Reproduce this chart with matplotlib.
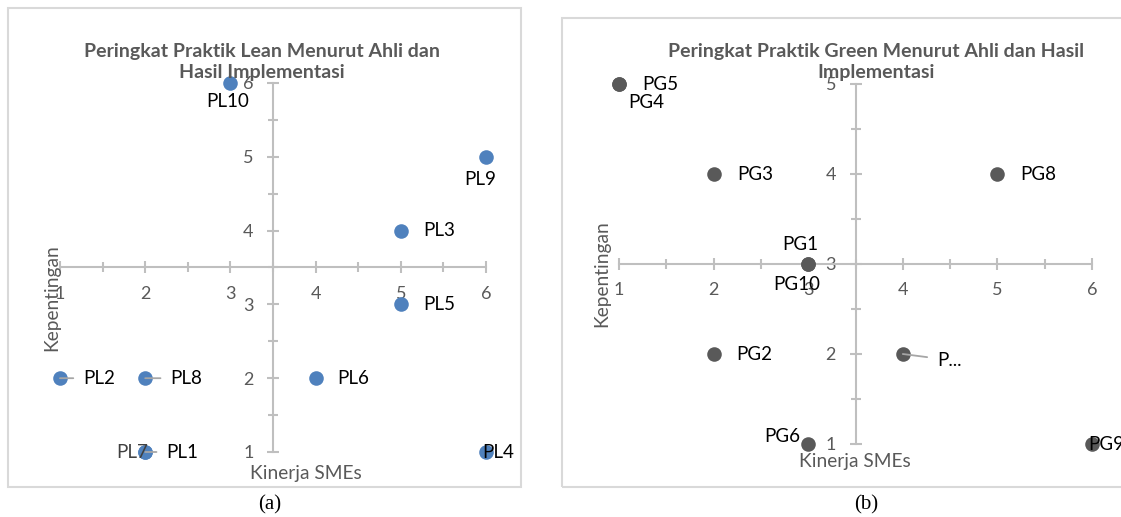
import matplotlib
matplotlib.use("Agg")
import matplotlib.pyplot as plt
from matplotlib.patches import Rectangle
from matplotlib.ticker import MultipleLocator

# ---------------- data ----------------
lean_labels = ["PL1", "PL2", "PL3", "PL4", "PL5", "PL6", "PL7", "PL8", "PL9", "PL10"]
lean_x = [2, 1, 5, 6, 5, 4, 2, 2, 6, 3]
lean_y = [1, 2, 4, 1, 3, 2, 1, 2, 5, 6]

green_labels = ["PG1", "PG2", "PG3", "PG4", "PG5", "PG6", "P...", "PG8", "PG9", "PG10"]
green_x = [3, 2, 2, 1, 1, 3, 4, 5, 6, 3]
green_y = [3, 2, 4, 5, 5, 1, 2, 4, 1, 3]

x_ticks = [1, 2, 3, 4, 5, 6]
lean_y_ticks = [1, 2, 3, 4, 5, 6]
green_y_ticks = [1, 2, 3, 4, 5]

title_a = ["Peringkat Praktik Lean Menurut Ahli dan", "Hasil Implementasi"]
title_b = ["Peringkat Praktik Green Menurut Ahli dan Hasil", "Implementasi"]
xlabel = "Kinerja SMEs"
ylabel = "Kepentingan"

# ---------------- layout / style ----------------
W, H = 1121, 517
FONT = "Lato"
GRAY_TXT = "#595959"
AXIS_C = "#BFBFBF"
BORDER_C = "#D9D9D9"
BLUE = "#4F81BD"
DARK = "#595959"

# label offsets in pixels (dx, dy up), ha, leader, text colour
lean_lab_style = {
    "PL1": (21, 0, "left", True, "black"),
    "PL2": (23, 0, "left", True, "black"),
    "PL3": (22, 0, "left", False, "black"),
    "PL4": (-4, 0, "left", False, "black"),
    "PL5": (22, 0, "left", False, "black"),
    "PL6": (22, 0, "left", False, "black"),
    "PL7": (3, 0, "right", False, "#404040"),
    "PL8": (25, 0, "left", True, "black"),
    "PL9": (-6, -23, "center", False, "black"),
    "PL10": (-3, -19, "center", False, "black"),
}
green_lab_style = {
    "PG1": (-8, 20, "center", False, "black"),
    "PG2": (23, 0, "left", False, "black"),
    "PG3": (24, 0, "left", False, "black"),
    "PG4": (9, -18, "left", False, "black"),
    "PG5": (23, 0, "left", False, "black"),
    "PG6": (-8, 7, "right", False, "black"),
    "P...": (34, -6, "left", True, "black"),
    "PG8": (23, 0, "left", False, "black"),
    "PG9": (-4, 0, "left", False, "black"),
    "PG10": (-11, -20, "center", False, "black"),
}

fig = plt.figure(figsize=(W / 100, H / 100), dpi=100)
fig.patch.set_facecolor("white")


def px_rect(x0, y0, x1, y1):
    """pixel box (top-left origin) -> figure fraction [l, b, w, h]"""
    return [x0 / W, 1 - y1 / H, (x1 - x0) / W, (y1 - y0) / H]


def ftext(x, y, s, **kw):
    fig.text(x / W, 1 - y / H, s, **kw)


# panel borders
fig.patches.append(Rectangle((8 / W, 1 - 487 / H), (521 - 8) / W, (487 - 8) / H,
                             transform=fig.transFigure, fill=False,
                             edgecolor=BORDER_C, linewidth=1.5))
fig.patches.append(Rectangle((562 / W, 1 - 487 / H), (1140 - 562) / W, (487 - 18) / H,
                             transform=fig.transFigure, fill=False,
                             edgecolor=BORDER_C, linewidth=1.5, clip_on=False))


def setup_axes(ax, xt, yt, ycross):
    ax.set_xlim(min(xt), max(xt))
    ax.set_ylim(min(yt), max(yt))
    ax.set_facecolor("none")
    for s in ["top", "right"]:
        ax.spines[s].set_visible(False)
    ax.spines["left"].set_position(("data", 3.5))
    ax.spines["bottom"].set_position(("data", ycross))
    for s in ["left", "bottom"]:
        ax.spines[s].set_color(AXIS_C)
        ax.spines[s].set_linewidth(1.5)
    ax.set_xticks(xt)
    ax.set_yticks(yt)
    ax.xaxis.set_minor_locator(MultipleLocator(0.5))
    ax.yaxis.set_minor_locator(MultipleLocator(0.5))
    ax.tick_params(which="both", direction="inout", length=8, width=1.5,
                   color=AXIS_C, labelcolor=GRAY_TXT, labelsize=13)
    ax.tick_params(which="minor", length=7)
    ax.tick_params(axis="x", pad=9)
    ax.tick_params(axis="y", pad=10)
    for lab in ax.get_xticklabels() + ax.get_yticklabels():
        lab.set_fontfamily(FONT)


def draw_points(ax, xs, ys, labels, color, styles):
    ax.scatter(xs, ys, s=110, color=color, zorder=3, clip_on=False, linewidths=0)
    for x, y, lab in zip(xs, ys, labels):
        dx, dy, ha, leader, tc = styles[lab]
        kw = {}
        if leader:
            kw["arrowprops"] = dict(arrowstyle="-", color="#A6A6A6", lw=1.3,
                                    shrinkA=5, shrinkB=0)
        ax.annotate(lab, (x, y), xytext=(dx, dy), textcoords="offset pixels",
                    ha=ha, va="center", fontsize=13.5, fontfamily=FONT, color=tc,
                    zorder=4, annotation_clip=False, **kw)


# ---------------- panel (a) ----------------
ax1 = fig.add_axes(px_rect(60, 83, 486, 452))
setup_axes(ax1, x_ticks, lean_y_ticks, 3.5)
draw_points(ax1, lean_x, lean_y, lean_labels, BLUE, lean_lab_style)

# ---------------- panel (b) ----------------
ax2 = fig.add_axes(px_rect(619, 84, 1092, 444))
setup_axes(ax2, x_ticks, green_y_ticks, 3)
draw_points(ax2, green_x, green_y, green_labels, DARK, green_lab_style)

# titles (two lines each)
for cx, lines in [(262, title_a), (876, title_b)]:
    for ybase, line in zip([57, 78], lines):
        ftext(cx, ybase, line, ha="center", va="baseline", fontsize=14,
              fontweight="bold", color=GRAY_TXT, fontfamily=FONT)

# axis titles
ftext(306, 473, xlabel, ha="center", va="center", fontsize=13.8, color=GRAY_TXT, fontfamily=FONT)
ftext(855, 462, xlabel, ha="center", va="center", fontsize=13.8, color=GRAY_TXT, fontfamily=FONT)
ftext(52, 298, ylabel, ha="center", va="center", rotation=90, fontsize=13.8,
      color=GRAY_TXT, fontfamily=FONT)
ftext(602, 274, ylabel, ha="center", va="center", rotation=90, fontsize=13.8,
      color=GRAY_TXT, fontfamily=FONT)

# captions
ftext(270, 505, "(a)", ha="center", va="center", fontsize=15, fontfamily="Liberation Serif")
ftext(866, 505, "(b)", ha="center", va="center", fontsize=15, fontfamily="Liberation Serif")

fig.savefig("out.png", dpi=100, facecolor="white")
